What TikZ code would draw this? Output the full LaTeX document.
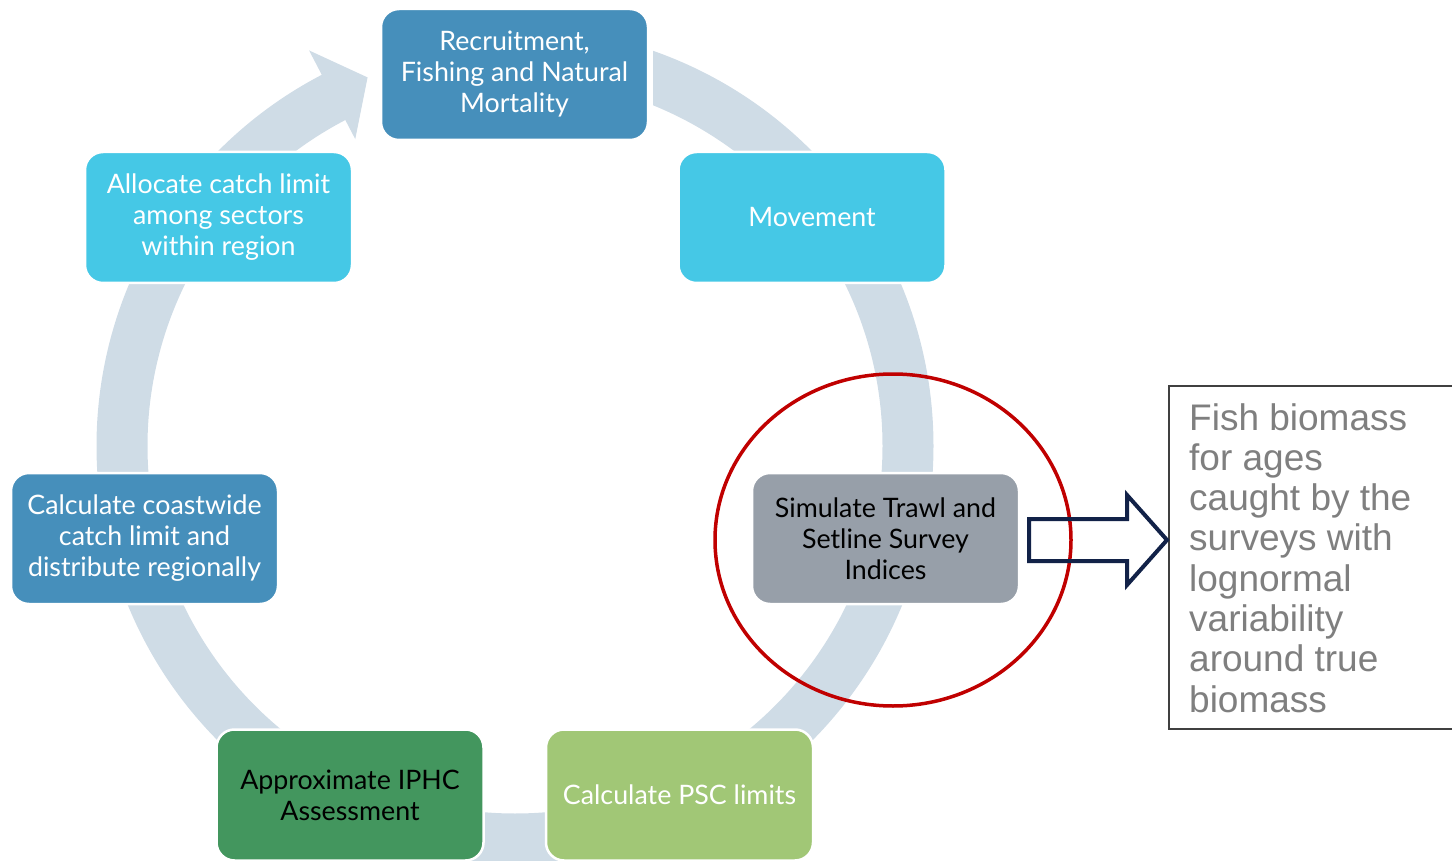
\documentclass[tikz,border=0pt]{standalone}
\usepackage{fontspec}
\setmainfont{Lato}
\newfontfamily\arialfont{Liberation Sans}
\usetikzlibrary{calc}
\definecolor{steel}{RGB}{70,143,187}
\definecolor{cyanbox}{RGB}{69,200,230}
\definecolor{greybox}{RGB}{151,159,169}
\definecolor{darkgreen}{RGB}{67,150,94}
\definecolor{lightgreen}{RGB}{161,199,118}
\definecolor{ringcol}{RGB}{207,220,230}
\definecolor{redring}{RGB}{192,0,0}
\definecolor{navy}{RGB}{18,34,72}
\definecolor{txtgrey}{RGB}{127,127,127}
\definecolor{bordergrey}{RGB}{64,64,64}
\begin{document}
\begin{tikzpicture}[x=1pt,y=-1pt,
  box/.style={rectangle, rounded corners=18pt, draw=white, line width=2.5pt,
    minimum width=267pt, minimum height=131pt, align=center, inner sep=0pt,
    font=\fontsize{26.8}{31}\selectfont},
  ringline/.style={draw=ringcol, line width=51pt},
]
\useasboundingbox (0,0) rectangle (1452,861);
\coordinate (c) at (515,446);
% ring with arrow head
\begin{scope}
  \clip (0,0) -- (381,0) -- (381,150) -- (653,150) -- (653,0) -- (1452,0) -- (1452,861) -- (0,861) -- cycle;
  \draw[ringline] (c) ++(-90:393) arc[start angle=-90, end angle=242.7, radius=393];
  \fill[ringcol] ($(c)+(242.5:446)$) -- ($(c)+(248.2:397)$) -- ($(c)+(242.5:346)$) -- cycle;
\end{scope}
% boxes
\node[box, fill=steel, text=white] (rec) at (514.5,74.5) {Recruitment,\\Fishing and Natural\\Mortality};
\node[box, fill=cyanbox, text=white] (mov) at (812,217.5) {Movement};
\node[box, fill=cyanbox, text=white] (alloc) at (218.5,217.5) {Allocate catch limit\\among sectors\\within region};
\node[box, fill=greybox, text=black] (sim) at (885.5,538.5) {Simulate Trawl and\\Setline Survey\\Indices};
\node[box, fill=steel, text=white] (coast) at (144.5,538.5) {Calculate coastwide\\catch limit and\\distribute regionally};
\node[box, fill=darkgreen, text=black] (appr) at (350,795) {Approximate IPHC\\Assessment};
\node[box, fill=lightgreen, text=white] (psc) at (679.5,795) {Calculate PSC limits};
% red ellipse
\draw[redring, line width=3.5pt] (893,540) ellipse[x radius=178, y radius=166];
% text box
\draw[bordergrey, line width=2pt] (1460,386) -- (1169,386) -- (1169,729) -- (1460,729);
\node[anchor=north west, inner sep=0pt, align=left, text=txtgrey,
  font=\arialfont\fontsize{37}{40.3}\selectfont] (fish) at (1189,403)
  {Fish biomass\\for ages\\caught by the\\surveys with\\lognormal\\variability\\around true\\biomass};
% hollow block arrow
\coordinate (tail) at (1029,540);
\coordinate (tip) at (1167,540);
\draw[navy, line width=4pt, line join=miter] ($(tail)+(0,-21)$) -- ($(tip)+(-40,-21)$) -- ($(tip)+(-40,-45)$) -- (tip)
  -- ($(tip)+(-40,45)$) -- ($(tip)+(-40,21)$) -- ($(tail)+(0,21)$) -- cycle;
\end{tikzpicture}
\end{document}
